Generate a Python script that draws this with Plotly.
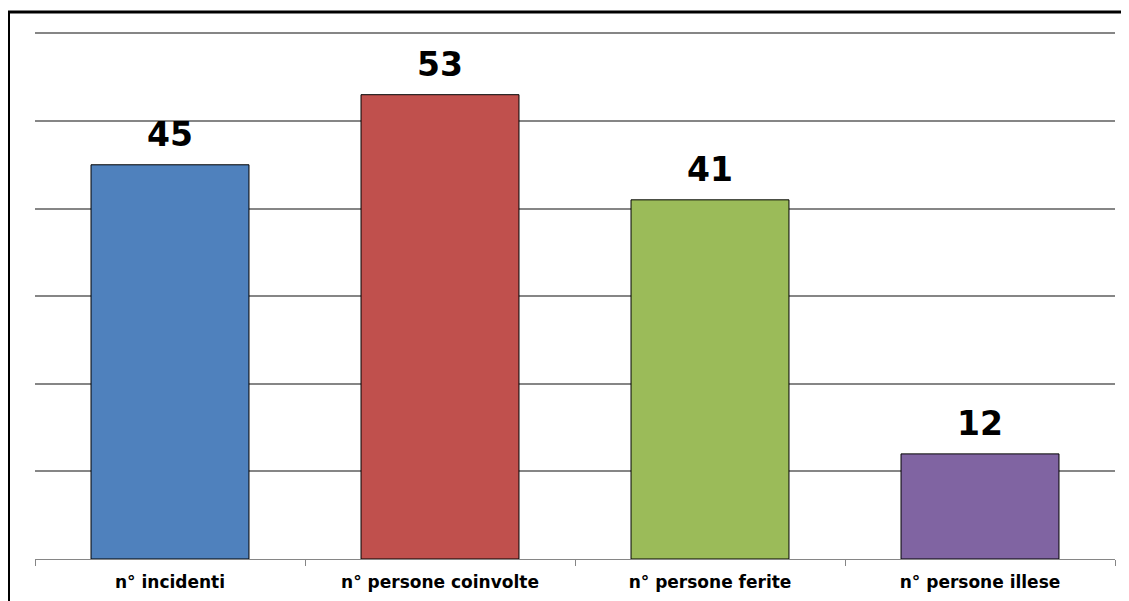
import plotly.graph_objects as go

categories = ["n° incidenti", "n° persone coinvolte", "n° persone ferite", "n° persone illese"]
values = [45, 53, 41, 12]
colors = ["#4F81BD", "#C0504D", "#9BBB59", "#8064A2"]

# page body has an 8px margin; figure sized to fit the window
W, H = 1121, 593
ymax = 60.5
ml, mr, mt, mb = 27, 14, 21, 42
pw = W - ml - mr
ph = H - mt - mb

fig = go.Figure()
fig.add_trace(go.Bar(
    x=categories, y=values,
    marker=dict(color=colors, line=dict(color="black", width=1)),
    width=0.585,
    cliponaxis=False,
    hoverinfo="x+y",
))

for c, v in zip(categories, values):
    fig.add_annotation(
        x=c, y=v, text=f"<b>{v}</b>", showarrow=False,
        yanchor="bottom", yshift=9,
        font=dict(family="DejaVu Sans", size=33, color="black"),
    )

def px(x):
    return (x - ml) / pw

def py(y):
    return (H - mb - y) / ph

fig.update_layout(
    width=W, height=H,
    margin=dict(l=ml, r=mr, t=mt, b=mb, autoexpand=False),
    paper_bgcolor="white", plot_bgcolor="white",
    showlegend=False,
    xaxis=dict(
        showgrid=False, showline=True, linecolor="#868686", linewidth=1,
        ticks="outside", tickson="boundaries", ticklen=6, tickcolor="#868686",
        tickfont=dict(family="DejaVu Sans", size=17, color="black", weight="bold"),
        ticklabelstandoff=8, automargin=False,
    ),
    yaxis=dict(
        range=[0, ymax], tickvals=[10, 20, 30, 40, 50, 60], showgrid=True,
        gridcolor="#868686", gridwidth=2,
        showticklabels=False, zeroline=False, ticks="", automargin=False,
    ),
    shapes=[
        dict(type="line", xref="paper", yref="paper",
             x0=px(0.5), x1=px(0.5), y0=py(H + 10), y1=py(3),
             line=dict(color="black", width=3)),
        dict(type="line", xref="paper", yref="paper",
             x0=px(-1), x1=px(W + 10), y0=py(4), y1=py(4),
             line=dict(color="black", width=3)),
    ],
)

fig.write_html("out.html")
